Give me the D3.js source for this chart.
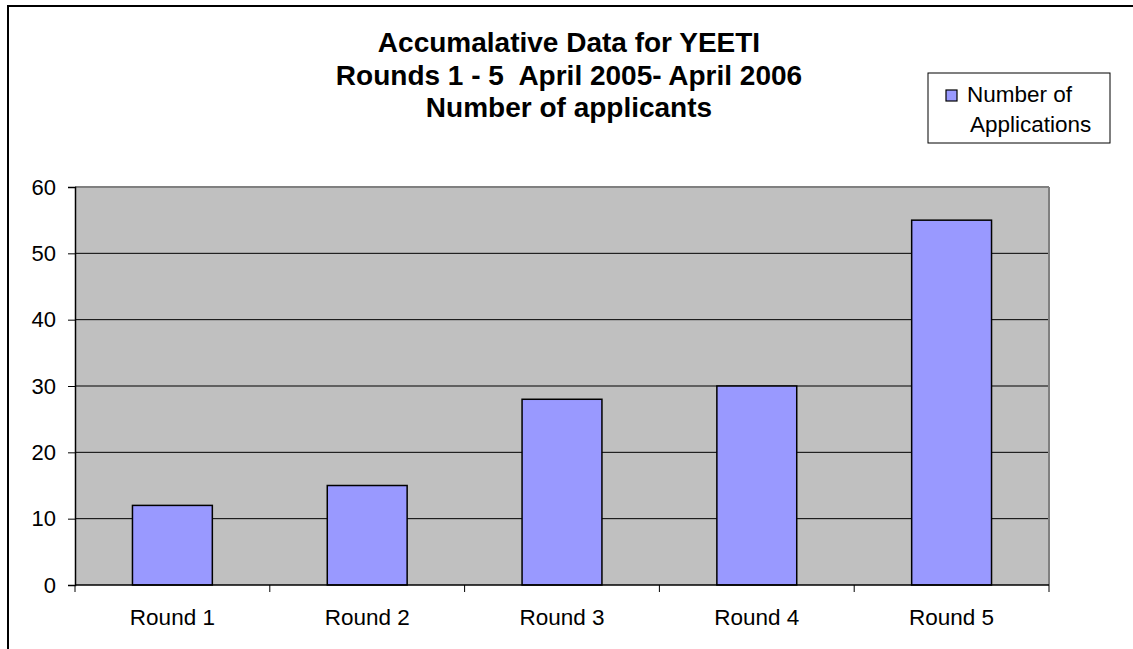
<!DOCTYPE html>
<html><head><meta charset="utf-8">
<script src="https://cdn.jsdelivr.net/npm/d3@7"></script>
<style>body{margin:0;background:#fff}svg{display:block;font-family:Arial,"Liberation Sans",sans-serif}</style>
</head><body>
<script>
const categories = ["Round 1","Round 2","Round 3","Round 4","Round 5"];
const values = [12,15,28,30,55];
const yTicks = [0,10,20,30,40,50,60];
const titleLines = ["Accumalative Data for YEETI","Rounds 1 - 5  April 2005- April 2006","Number of applicants"];
const seriesName = ["Number of","Applications"];

const W=1133,H=649;
const svg=d3.select("body").append("svg").attr("width",W).attr("height",H);
// outer chart border
svg.append("rect").attr("x",8).attr("y",6).attr("width",1140).attr("height",660)
  .attr("fill","#fff").attr("stroke","#000").attr("stroke-width",2);

const L=75,R=1049,T=187,B=585;
const x=d3.scaleBand().domain(categories).range([L,R]).paddingInner(0.59).paddingOuter(0.295);
const xb=d3.scaleBand().domain(categories).range([L,R]);
const y=d3.scaleLinear().domain([0,60]).range([B,T]);

svg.append("rect").attr("x",L).attr("y",T).attr("width",R-L).attr("height",B-T).attr("fill","#C0C0C0");
// gridlines
svg.append("g").selectAll("line").data(yTicks.filter(d=>d>0&&d<60)).join("line")
  .attr("x1",L).attr("x2",R).attr("y1",d=>y(d)).attr("y2",d=>y(d)).attr("stroke","#000").attr("stroke-width",1);
// top & right border
svg.append("line").attr("x1",L).attr("x2",R).attr("y1",T).attr("y2",T).attr("stroke","#808080").attr("stroke-width",2);
svg.append("line").attr("x1",R).attr("x2",R).attr("y1",T).attr("y2",B).attr("stroke","#808080").attr("stroke-width",2);

// bars
svg.append("g").selectAll("rect").data(values).join("rect")
  .attr("x",(d,i)=>x(categories[i])).attr("width",x.bandwidth())
  .attr("y",d=>y(d)).attr("height",d=>B-y(d))
  .attr("fill","#9999FF").attr("stroke","#000").attr("stroke-width",1.5);

// y axis
const ya=svg.append("g").attr("transform",`translate(${L},0)`)
  .call(d3.axisLeft(y).tickValues(yTicks).tickSize(7).tickPadding(12));
ya.attr("font-size",null).attr("font-family",null);
ya.select(".domain").attr("stroke","#000").attr("stroke-width",1.5);
ya.selectAll(".tick line").attr("stroke","#000");
ya.selectAll("text").style("font-size","22px").attr("fill","#000");

// x axis
const xg=svg.append("g").attr("transform",`translate(0,${B})`);
xg.append("line").attr("x1",L).attr("x2",R).attr("stroke","#000").attr("stroke-width",1.5);
const bounds=categories.map(c=>xb(c)).concat([R]);
xg.selectAll("line.tk").data(bounds).join("line").attr("class","tk")
  .attr("x1",d=>d).attr("x2",d=>d).attr("y1",0).attr("y2",7).attr("stroke","#000");
xg.selectAll("text").data(categories).join("text")
  .attr("x",d=>xb(d)+xb.bandwidth()/2).attr("y",40).attr("text-anchor","middle")
  .style("font-size","22.5px").text(d=>d);

// title
svg.append("g").selectAll("text").data(titleLines).join("text")
  .attr("x",569).attr("y",(d,i)=>52+i*32.5).attr("text-anchor","middle")
  .style("font-size","28px").style("white-space","pre").attr("font-weight","bold").text(d=>d);

// legend
const lg=svg.append("g");
lg.append("rect").attr("x",928).attr("y",73).attr("width",182).attr("height",70)
  .attr("fill","#fff").attr("stroke","#000").attr("stroke-width",1);
lg.append("rect").attr("x",946).attr("y",90).attr("width",11).attr("height",11)
  .attr("fill","#9999FF").attr("stroke","#000").attr("stroke-width",1.2);
lg.selectAll("text.l").data(seriesName).join("text").attr("class","l")
  .attr("x",(d,i)=>i===0?967:970).attr("y",(d,i)=>102+i*30)
  .style("font-size","22.5px").text(d=>d);
</script>
</body></html>
